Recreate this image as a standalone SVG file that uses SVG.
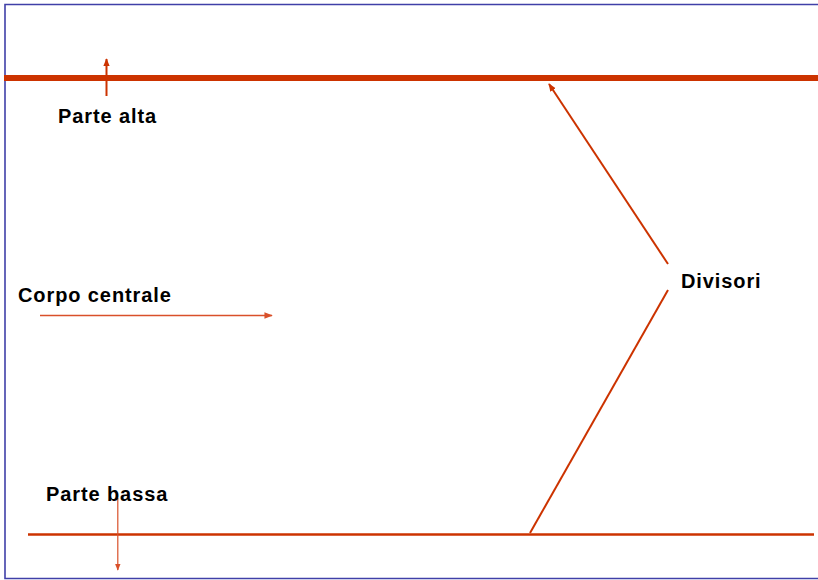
<svg xmlns="http://www.w3.org/2000/svg" width="818" height="580" viewBox="0 0 818 580">
<style>
.lbl{font-family:"Liberation Sans",Arial,sans-serif;font-weight:bold;font-size:20px;letter-spacing:0.9px;fill:#000}
.ln{stroke:#cc3300;fill:none}
</style>
<defs>
<marker id="ah" viewBox="0 0 10 10" refX="9" refY="5" markerWidth="4" markerHeight="4" orient="auto" markerUnits="strokeWidth">
<path d="M0,1 L10,5 L0,9 Z" fill="#cc3300"/>
</marker>
<marker id="ahs" viewBox="0 0 10 10" refX="9" refY="5" markerWidth="6" markerHeight="6" orient="auto" markerUnits="strokeWidth">
<path d="M0,1 L10,5 L0,9 Z" fill="#d9502a"/>
</marker>
</defs>
<rect width="818" height="580" fill="#fff"/>
<path d="M822,4.5 H5 V578.5 H822" fill="none" stroke="#4040a8" stroke-width="1.6"/>
<g id="connectors">
<line class="ln" x1="4" y1="78" x2="818" y2="78" stroke-width="6"/>
<line class="ln" x1="28" y1="534.5" x2="814" y2="534.5" stroke-width="2.5"/>
<line class="ln" x1="106.5" y1="96" x2="106.5" y2="59" stroke-width="2" marker-end="url(#ah)"/>
<line x1="117.8" y1="498" x2="117.8" y2="570" stroke="#d9502a" stroke-width="1.2" marker-end="url(#ahs)"/>
<line x1="40" y1="315.5" x2="272" y2="315.5" stroke="#d9502a" stroke-width="1.4" marker-end="url(#ahs)"/>
<line class="ln" x1="668" y1="264" x2="549" y2="84" stroke-width="2" marker-end="url(#ah)"/>
<line class="ln" x1="668" y1="290" x2="530" y2="533" stroke-width="2"/>
</g>
<g id="parte-alta"><text class="lbl" x="58" y="122.5">Parte alta</text></g>
<g id="corpo-centrale"><text class="lbl" x="18" y="302">Corpo centrale</text></g>
<g id="divisori"><text class="lbl" x="681" y="288">Divisori</text></g>
<g id="parte-bassa"><text class="lbl" x="46" y="501">Parte bassa</text></g>
</svg>
